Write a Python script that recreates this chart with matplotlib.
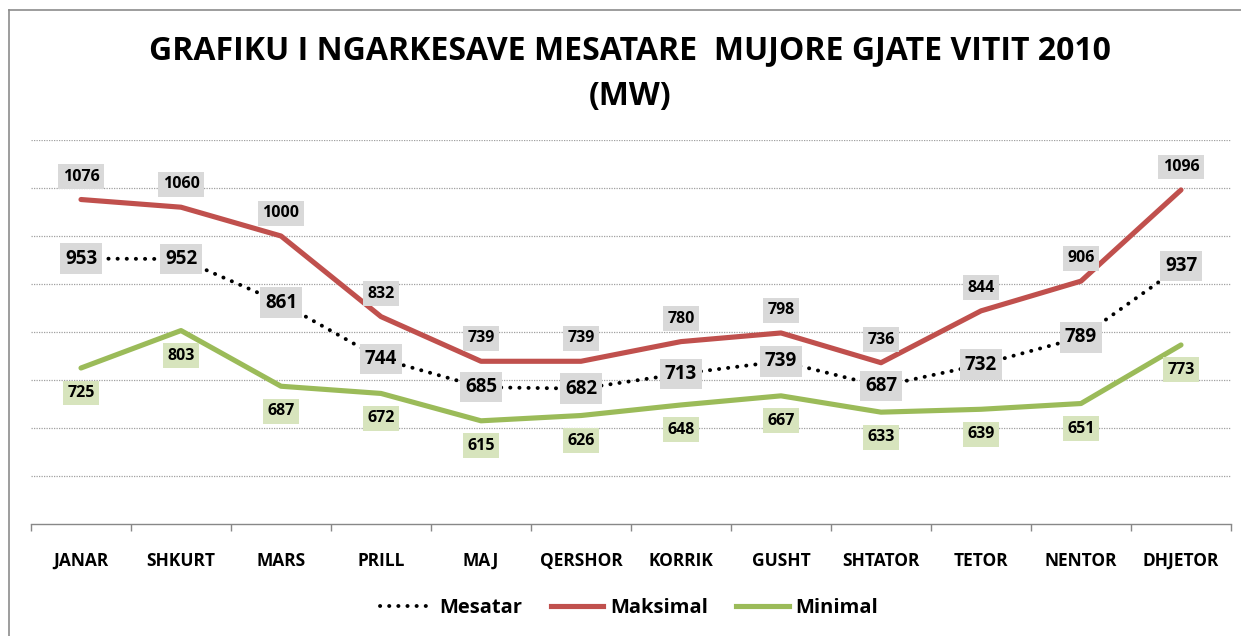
import matplotlib.pyplot as plt
from matplotlib.lines import Line2D

plt.rcParams['font.family'] = ['Open Sans', 'DejaVu Sans']

months = ["JANAR", "SHKURT", "MARS", "PRILL", "MAJ", "QERSHOR", "KORRIK",
          "GUSHT", "SHTATOR", "TETOR", "NENTOR", "DHJETOR"]
mesatar = [953, 952, 861, 744, 685, 682, 713, 739, 687, 732, 789, 937]
maksimal = [1076, 1060, 1000, 832, 739, 739, 780, 798, 736, 844, 906, 1096]
minimal = [725, 803, 687, 672, 615, 626, 648, 667, 633, 639, 651, 773]

red = "#C0504D"
green = "#9BBB59"
gray_box = "#D9D9D9"
green_box = "#D7E4BD"
dots = (0, (0.05, 2.3))

fig = plt.figure(figsize=(12.41, 6.36), dpi=100)
ax = fig.add_axes([31 / 1241, 1 - 524 / 636, 1200 / 1241, 384 / 636])

x = list(range(len(months)))

ax.plot(x, maksimal, color=red, lw=3.7, solid_capstyle='round', zorder=3)
ax.plot(x, minimal, color=green, lw=3.7, solid_capstyle='round', zorder=3)
ax.plot(x, mesatar, color='black', lw=2.8, linestyle=dots,
        dash_capstyle='round', zorder=3)

for i in x:
    ax.annotate(str(maksimal[i]), (i, maksimal[i]), xytext=(0, 16.5),
                textcoords='offset points', ha='center', va='center',
                fontsize=11.5, fontweight='bold', zorder=5,
                bbox=dict(boxstyle='square,pad=0.28', fc=gray_box, ec='none'))
    ax.annotate(str(mesatar[i]), (i, mesatar[i]), xytext=(0, 0),
                textcoords='offset points', ha='center', va='center',
                fontsize=13.5, fontweight='bold', zorder=5,
                bbox=dict(boxstyle='square,pad=0.28', fc=gray_box, ec='none'))
    ax.annotate(str(minimal[i]), (i, minimal[i]), xytext=(0, -18),
                textcoords='offset points', ha='center', va='center',
                fontsize=11.5, fontweight='bold', zorder=5,
                bbox=dict(boxstyle='square,pad=0.28', fc=green_box, ec='none'))

ax.set_xlim(-0.5, 11.5)
ax.set_ylim(400, 1200)
ax.set_yticks(range(500, 1201, 100))
ax.yaxis.grid(True, linestyle=(0, (1, 1)), color='#A0A0A0', lw=0.9)
ax.set_axisbelow(True)
ax.tick_params(axis='y', left=False, labelleft=False)

ax.set_xticks(x)
ax.set_xticklabels(months, fontsize=12.5, fontweight='bold')
ax.set_xticks([i - 0.5 for i in range(13)], minor=True)
ax.tick_params(axis='x', which='major', length=0, pad=20)
ax.tick_params(axis='x', which='minor', length=5, color='#888888', width=1)

for s in ['top', 'right', 'left']:
    ax.spines[s].set_visible(False)
ax.spines['bottom'].set_color('#888888')
ax.spines['bottom'].set_linewidth(1)

fig.text(0.508, 1 - 59 / 636, "GRAFIKU I NGARKESAVE MESATARE  MUJORE GJATE VITIT 2010",
         ha='center', va='baseline', fontsize=23, fontweight='bold')
fig.text(0.508, 1 - 105 / 636, "(MW)", ha='center', va='baseline',
         fontsize=23, fontweight='bold')

handles = [
    Line2D([], [], color='black', lw=2.8, linestyle=dots, dash_capstyle='round'),
    Line2D([], [], color=red, lw=3.7),
    Line2D([], [], color=green, lw=3.7),
]
fig.legend(handles, ["Mesatar", "Maksimal", "Minimal"], loc='center',
           bbox_to_anchor=(0.507, 1 - 608 / 636), ncol=3, frameon=False,
           prop=dict(size=14.5, weight='bold'), handlelength=2.6,
           handletextpad=0.35, columnspacing=1.4)

# chart border (left and top edges visible)
fig.add_artist(Line2D([9 / 1241, 9 / 1241], [0, 1 - 10 / 636], color='#8C8C8C', lw=1.2))
fig.add_artist(Line2D([9 / 1241, 1], [1 - 10 / 636, 1 - 10 / 636], color='#8C8C8C', lw=1.2))

fig.savefig("out.png", dpi=100)
